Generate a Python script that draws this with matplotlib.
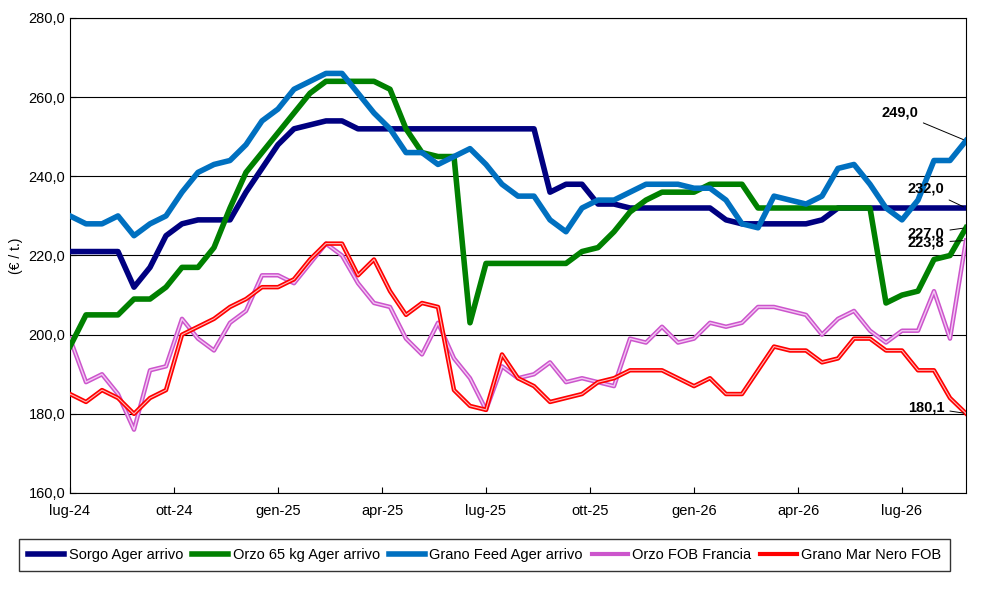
import matplotlib
matplotlib.use("Agg")
import matplotlib.pyplot as plt
from matplotlib.lines import Line2D

plt.rcParams['font.family'] = ['Liberation Sans', 'DejaVu Sans']

weeks = list(range(0, 113, 2))
sorgo = [221,221,221,221,212,217,225,228,229,229,229,236,242,248,252,253,254,254,252,252,252,252,252,252,252,252,252,252,252,252,236,238,238,233,233,232,232,232,232,232,232,229,228,228,228,228,228,229,232,232,232,232,232,232,232,232,232]
orzo65 = [197,205,205,205,209,209,212,217,217,222,232,241,246,251,256,261,264,264,264,264,262,252,246,245,245,203,218,218,218,218,218,218,221,222,226,231,234,236,236,236,238,238,238,232,232,232,232,232,232,232,232,208,210,211,219,220,227]
grano_feed = [230,228,228,230,225,228,230,236,241,243,244,248,254,257,262,264,266,266,261,256,252,246,246,243,245,247,243,238,235,235,229,226,232,234,234,236,238,238,238,237,237,234,228,227,235,234,233,235,242,243,238,232,229,234,244,244,249]
orzo_fob = [199,188,190,185,176,191,192,204,199,196,203,206,215,215,213,218,223,220,213,208,207,199,195,203,194,189,181,192,189,190,193,188,189,188,187,199,198,202,198,199,203,202,203,207,207,206,205,200,204,206,201,198,201,201,211,199,223.8]
grano_mn = [185,183,186,184,180,184,186,200,202,204,207,209,212,212,214,219,223,223,215,219,211,205,208,207,186,182,181,195,189,187,183,184,185,188,189,191,191,191,189,187,189,185,185,191,197,196,196,193,194,199,199,196,196,191,191,184,180.1]
tick_pos = [0, 13, 26, 39, 52, 65, 78, 91, 104]
tick_labels = ["lug-24","ott-24","gen-25","apr-25","lug-25","ott-25","gen-26","apr-26","lug-26"]
names = ["Sorgo Ager arrivo","Orzo 65 kg Ager arrivo","Grano Feed Ager arrivo","Orzo FOB Francia","Grano Mar Nero FOB"]

fig = plt.figure(figsize=(9.83, 5.92), dpi=100)
ax = fig.add_axes([70/983, 1-493/592, 896/983, 475/592])
ax.set_xlim(0, 112); ax.set_ylim(160, 280)
ax.set_yticks(range(160, 281, 20))
ax.set_yticklabels([f"{v},0" for v in range(160, 281, 20)], fontsize=10.5)
ax.set_xticks(tick_pos); ax.set_xticklabels(tick_labels, fontsize=10.5)
ax.tick_params(axis="x", direction="in", length=4, pad=8)
ax.tick_params(axis="y", direction="in", length=4)
ax.grid(axis="y", color="black", lw=0.8)
ax.set_axisbelow(True)
ax.set_ylabel("(€ / t.)", fontsize=10)

ax.plot(weeks, orzo_fob, color="#CC55CC", lw=3.2, zorder=3)
ax.plot(weeks, orzo_fob, color="#F4C8F4", lw=1.0, zorder=3)
ax.plot(weeks, grano_mn, color="#FF0000", lw=3.2, zorder=3)
ax.plot(weeks, grano_mn, color="#FFB8B8", lw=0.8, zorder=3)
ax.plot(weeks, sorgo, color="#000080", lw=4, zorder=4)
ax.plot(weeks, orzo65, color="#008000", lw=4, zorder=5)
ax.plot(weeks, grano_feed, color="#0070C0", lw=4, zorder=6)

for val, lx, ly in [(grano_feed[-1], 106, 256), (sorgo[-1], 109.3, 236.8), (orzo65[-1], 109.3, 225.6), (orzo_fob[-1], 109.3, 223.2), (grano_mn[-1], 109.3, 181.6)]:
    ax.annotate(f"{val:.1f}".replace(".", ","), xy=(112, val), xytext=(lx, ly), fontsize=10.5,
                fontweight="bold", ha="right", va="center",
                arrowprops=dict(arrowstyle="-", color="black", lw=0.7), zorder=7)

handles = [Line2D([], [], color="#000080", lw=4), Line2D([], [], color="#008000", lw=4),
           Line2D([], [], color="#0070C0", lw=4), Line2D([], [], color="#CC55CC", lw=3),
           Line2D([], [], color="#FF0000", lw=3)]
fig.legend(handles, names, loc="center", bbox_to_anchor=(0.493, 1-555/592), ncol=5, fontsize=10.5,
           frameon=True, fancybox=False, edgecolor="black", handlelength=2.5, columnspacing=0.6,
           handletextpad=0.3, borderpad=0.6)
fig.savefig("out.png", dpi=100)
